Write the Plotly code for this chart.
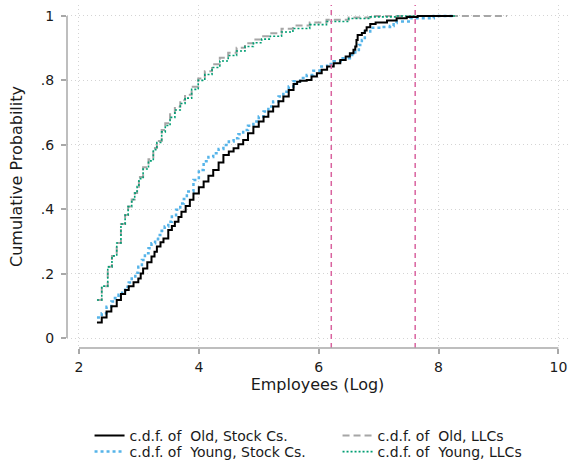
import plotly.graph_objects as go

# c.d.f. readings (jump points) for each group
old_stock_x = [2.30, 2.38, 2.46, 2.54, 2.63, 2.70, 2.77, 2.83, 2.91, 2.99, 3.03, 3.07, 3.14, 3.21, 3.26,
               3.30, 3.36, 3.41, 3.49, 3.55, 3.60, 3.66, 3.71, 3.78, 3.85, 3.91, 4.00, 4.08, 4.16, 4.24,
               4.33, 4.41, 4.50, 4.58, 4.66, 4.74, 4.82, 4.91, 5.00, 5.08, 5.16, 5.24, 5.33, 5.41, 5.50,
               5.58, 5.64, 5.69, 5.80, 5.88, 5.97, 6.05, 6.14, 6.25, 6.36, 6.45, 6.52, 6.58, 6.61, 6.63,
               6.65, 6.72, 6.77, 6.80, 6.86, 6.95, 7.14, 7.30, 7.47, 7.65, 8.24]
old_stock_y = [0.048, 0.064, 0.082, 0.099, 0.118, 0.137, 0.149, 0.161, 0.173, 0.185, 0.200, 0.216, 0.235,
               0.253, 0.268, 0.284, 0.297, 0.309, 0.335, 0.348, 0.361, 0.376, 0.392, 0.410, 0.429, 0.449,
               0.468, 0.486, 0.504, 0.522, 0.545, 0.568, 0.579, 0.589, 0.602, 0.615, 0.636, 0.656, 0.672,
               0.687, 0.703, 0.719, 0.735, 0.750, 0.770, 0.789, 0.796, 0.799, 0.801, 0.812, 0.822, 0.833,
               0.843, 0.853, 0.863, 0.874, 0.884, 0.895, 0.905, 0.925, 0.941, 0.947, 0.955, 0.965, 0.975,
               0.980, 0.986, 0.993, 0.997, 1.0, 1.0]

young_stock_x = [2.30, 2.38, 2.46, 2.54, 2.60, 2.66, 2.72, 2.77, 2.83, 2.88, 2.94, 2.99, 3.05, 3.10, 3.16,
                 3.21, 3.27, 3.32, 3.38, 3.43, 3.49, 3.55, 3.62, 3.69, 3.75, 3.80, 3.91, 4.00, 4.08, 4.16,
                 4.24, 4.33, 4.41, 4.50, 4.58, 4.66, 4.74, 4.82, 4.91, 5.00, 5.08, 5.16, 5.24, 5.33, 5.41,
                 5.50, 5.58, 5.69, 5.80, 5.91, 6.02, 6.14, 6.25, 6.40, 6.52, 6.61, 6.67, 6.72, 6.77, 6.86,
                 7.05, 7.19, 7.25, 7.30, 7.53, 7.92, 8.24]
young_stock_y = [0.064, 0.077, 0.097, 0.113, 0.124, 0.134, 0.147, 0.159, 0.172, 0.185, 0.203, 0.221, 0.242,
                 0.263, 0.279, 0.294, 0.307, 0.320, 0.333, 0.346, 0.361, 0.377, 0.398, 0.418, 0.432, 0.455,
                 0.491, 0.522, 0.549, 0.562, 0.574, 0.587, 0.599, 0.610, 0.620, 0.633, 0.646, 0.659, 0.672,
                 0.688, 0.703, 0.719, 0.734, 0.750, 0.765, 0.781, 0.797, 0.807, 0.817, 0.830, 0.843, 0.851,
                 0.859, 0.869, 0.879, 0.894, 0.910, 0.925, 0.952, 0.963, 0.966, 0.969, 0.978, 0.983, 0.993,
                 1.0, 1.0]

old_llc_x = [2.30, 2.38, 2.48, 2.55, 2.63, 2.70, 2.77, 2.82, 2.88, 2.93, 2.97, 3.00, 3.07, 3.16, 3.24,
             3.30, 3.38, 3.44, 3.52, 3.60, 3.69, 3.77, 3.88, 3.99, 4.10, 4.22, 4.35, 4.49, 4.63, 4.77,
             4.91, 5.05, 5.19, 5.38, 5.57, 5.85, 6.13, 6.50, 6.86, 9.14]
old_llc_y = [0.118, 0.161, 0.221, 0.255, 0.295, 0.354, 0.382, 0.408, 0.430, 0.450, 0.470, 0.500, 0.530,
             0.555, 0.590, 0.612, 0.646, 0.667, 0.695, 0.718, 0.738, 0.755, 0.780, 0.806, 0.828, 0.850,
             0.870, 0.886, 0.901, 0.915, 0.927, 0.937, 0.946, 0.960, 0.970, 0.980, 0.988, 0.995, 1.0, 1.0]

young_llc_x = [2.30, 2.38, 2.48, 2.55, 2.63, 2.70, 2.77, 2.82, 2.88, 2.93, 2.97, 3.00, 3.07, 3.16, 3.24,
               3.30, 3.38, 3.44, 3.52, 3.60, 3.69, 3.77, 3.88, 3.99, 4.10, 4.22, 4.35, 4.49, 4.63, 4.77,
               4.91, 5.05, 5.19, 5.38, 5.57, 5.85, 6.13, 6.50, 6.86, 7.30, 8.31]
young_llc_y = [0.118, 0.161, 0.221, 0.255, 0.295, 0.354, 0.382, 0.408, 0.430, 0.450, 0.470, 0.495, 0.525,
               0.550, 0.585, 0.607, 0.640, 0.660, 0.685, 0.708, 0.728, 0.745, 0.772, 0.800, 0.818, 0.840,
               0.860, 0.877, 0.891, 0.905, 0.917, 0.928, 0.937, 0.950, 0.961, 0.973, 0.983, 0.992, 0.997,
               1.0, 1.0]

vlines = [6.21, 7.61]

x_ticks = [2, 4, 6, 8, 10]
y_ticks = [0, 0.2, 0.4, 0.6, 0.8, 1]
y_ticktext = ["0", ".2", ".4", ".6", ".8", "1"]

FONT = "DejaVu Sans"
SP = "\u00a0"

fig = go.Figure()

# (name, x, y, colour, dash, width, legend slot)
old_llc = ("c.d.f. of" + SP + " Old, LLCs", old_llc_x, old_llc_y, "#a6a6a6", "7px,4px", 2, "legend2")
young_llc = ("c.d.f. of" + SP + " Young, LLCs", young_llc_x, young_llc_y, "#009E73", "2px,2px", 1.6, "legend4")
young_stock = ("c.d.f. of" + SP + " Young, Stock Cs.", young_stock_x, young_stock_y, "#56B4E9", "3px,3px", 2.5, "legend3")
old_stock = ("c.d.f. of" + SP + " Old, Stock Cs.", old_stock_x, old_stock_y, "#000000", "solid", 2, "legend")

for name, xs, ys, col, dash, w, leg in [old_llc, young_llc, young_stock, old_stock]:
    fig.add_trace(go.Scatter(
        x=xs, y=ys, mode="lines", name=name, line_shape="hv",
        line=dict(color=col, dash=dash, width=w), legend=leg,
    ))

for xv in vlines:
    fig.add_shape(type="line", xref="x", yref="paper", x0=xv, x1=xv, y0=0, y1=1,
                  line=dict(color="#d9639f", width=1.5, dash="5px,4px"))

# axis lines only over the tick range, Stata style
fig.add_shape(type="line", xref="x", yref="paper", x0=2, x1=10, y0=0, y1=0,
              line=dict(color="#a8a8a8", width=1.5))
fig.add_shape(type="line", xref="paper", yref="y", x0=0, x1=0, y0=0, y1=1,
              line=dict(color="#a8a8a8", width=1.5))

leg_style = dict(xanchor="left", yanchor="middle", font=dict(size=14, color="#1a1a1a"),
                 bgcolor="rgba(0,0,0,0)")
row1, row2 = -0.2566, -0.3032
col1, col2 = 0.045, 0.54

fig.update_layout(
    width=570, height=460,
    margin=dict(l=67, r=2, t=5, b=112, autoexpand=False),
    plot_bgcolor="white", paper_bgcolor="white",
    font=dict(family=FONT, size=14, color="#1a1a1a"),
    showlegend=True,
    legend=dict(x=col1, y=row1, **leg_style),
    legend2=dict(x=col2, y=row1, **leg_style),
    legend3=dict(x=col1, y=row2, **leg_style),
    legend4=dict(x=col2, y=row2, **leg_style),
)

fig.update_xaxes(
    range=[1.80, 10.16], tickvals=x_ticks, showline=False, zeroline=False, automargin=False,
    showgrid=True, gridcolor="#d4d4d4", griddash="1px,3px", gridwidth=1,
    ticks="outside", ticklen=5, tickcolor="#a8a8a8", tickwidth=1.5,
    tickfont=dict(size=14), ticklabelstandoff=1,
    title=dict(text="Employees (Log)", font=dict(size=16), standoff=2),
)
fig.update_yaxes(
    range=[-0.031, 1.034], tickvals=y_ticks, ticktext=y_ticktext, showline=False, zeroline=False,
    automargin=False,
    showgrid=True, gridcolor="#d4d4d4", griddash="1px,3px", gridwidth=1,
    ticks="outside", ticklen=5, tickcolor="#a8a8a8", tickwidth=1.5,
    tickfont=dict(size=14), tickangle=0, ticklabelstandoff=4,
    title=dict(text="Cumulative Probability", font=dict(size=16), standoff=14),
)

# drop the browser's default body margin so the figure sits at the page origin
fig.write_html("out.html", config={"displayModeBar": False},
               post_script="document.body.style.margin='0px';")
